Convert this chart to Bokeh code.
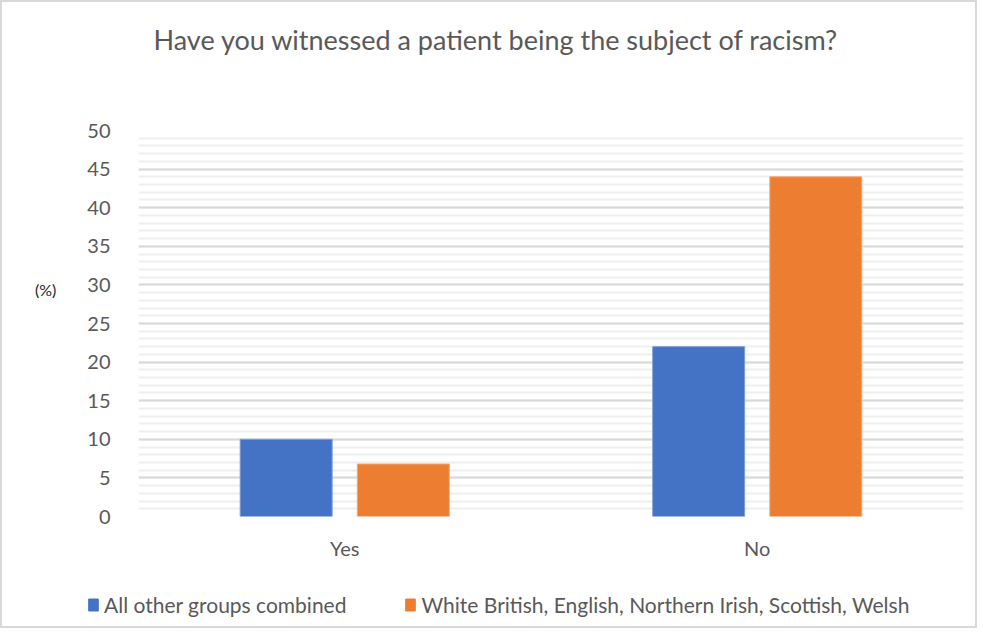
from bokeh.plotting import figure
from bokeh.models import ColumnDataSource, Legend, LegendItem, Title, FixedTicker, Range1d
from bokeh.layouts import column
from bokeh.transform import dodge
from bokeh.embed import file_html
from bokeh.resources import INLINE

categories = ["Yes", "No"]
other_groups = [10, 22]
white_british = [6.8, 44]
series_names = ["All other groups combined", "White British, English, Northern Irish, Scottish, Welsh"]
series_colors = ["#4472C4", "#ED7D31"]
y_ticks = [0, 5, 10, 15, 20, 25, 30, 35, 40, 45, 50]

FONT = "Lato"
GREY = "#595959"

src = ColumnDataSource(dict(cat=categories, a=other_groups, b=white_british))

p = figure(x_range=categories, y_range=(0, 50), frame_width=825, frame_height=386,
           output_backend="svg", toolbar_location=None,
           min_border_left=136, min_border_right=12, min_border_top=128, min_border_bottom=60)
p.frame_align = False

r1 = p.vbar(x=dodge("cat", -0.142, range=p.x_range), top="a", width=0.223, source=src,
            fill_color=series_colors[0], line_color="#7f9ed6", line_width=1)
r2 = p.vbar(x=dodge("cat", 0.142, range=p.x_range), top="b", width=0.223, source=src,
            fill_color=series_colors[1], line_color="#f3a77a", line_width=1)

t = Title(text="Have you witnessed a patient being the subject of racism?\n\n", align="left",
          offset=15, text_font=FONT, text_font_size="27px", text_font_style="normal",
          text_color=GREY, standoff=18)
p.add_layout(t, "above")

p.outline_line_color = None
p.xgrid.grid_line_color = None
p.ygrid.ticker = FixedTicker(ticks=y_ticks, minor_ticks=list(range(0, 51)))
p.ygrid.grid_line_color = "#d9d9d9"
p.ygrid.grid_line_width = 2
p.ygrid.minor_grid_line_color = "#efefef"
p.ygrid.minor_grid_line_width = 2

p.yaxis.ticker = FixedTicker(ticks=y_ticks)
p.yaxis.axis_line_color = None
p.yaxis.major_tick_line_color = None
p.yaxis.minor_tick_line_color = None
p.yaxis.major_label_text_font = FONT
p.yaxis.major_label_text_font_size = "20px"
p.yaxis.major_label_text_color = GREY
p.yaxis.major_label_standoff = 22
p.yaxis.axis_label = "(%)\n\n\n"
p.yaxis.axis_label_orientation = "horizontal"
p.yaxis.axis_label_text_font = FONT
p.yaxis.axis_label_text_font_size = "16px"
p.yaxis.axis_label_text_font_style = "normal"
p.yaxis.axis_label_text_color = "#262626"
p.yaxis.axis_label_standoff = 28

p.xaxis.axis_line_color = None
p.xaxis.major_tick_line_color = None
p.xaxis.minor_tick_line_color = None
p.xaxis.major_label_text_font = FONT
p.xaxis.major_label_text_font_size = "20px"
p.xaxis.major_label_text_color = GREY
p.xaxis.major_label_standoff = 13

# Legend strip: a small figure whose frame spans the full width, bars kept out of view
lg = figure(width=825 + 136 + 12, height=50, x_range=p.x_range, y_range=Range1d(100, 101),
            output_backend="svg", toolbar_location=None,
            min_border=0, min_border_left=0, min_border_right=0, min_border_top=0, min_border_bottom=0)
lg.frame_align = False
lg.axis.visible = False
lg.grid.visible = False
lg.outline_line_color = None
l1 = lg.vbar(x=dodge("cat", -0.142, range=lg.x_range), top="a", width=0.223, source=src,
             fill_color=series_colors[0], line_color=series_colors[0])
l2 = lg.vbar(x=dodge("cat", 0.142, range=lg.x_range), top="b", width=0.223, source=src,
             fill_color=series_colors[1], line_color=series_colors[1])

legend = Legend(items=[LegendItem(label=series_names[0], renderers=[l1]),
                       LegendItem(label=series_names[1], renderers=[l2])],
                orientation="horizontal", location=(85, 9),
                label_text_font=FONT, label_text_font_size="21px", label_text_color=GREY,
                glyph_width=12, glyph_height=15, label_standoff=5, spacing=58,
                padding=0, margin=0, border_line_color=None, background_fill_alpha=0)
lg.add_layout(legend, "center")

layout = column(p, lg, spacing=0, styles={"border": "2px solid #d9d9d9"})

open("out.html", "w").write(file_html(layout, INLINE))
